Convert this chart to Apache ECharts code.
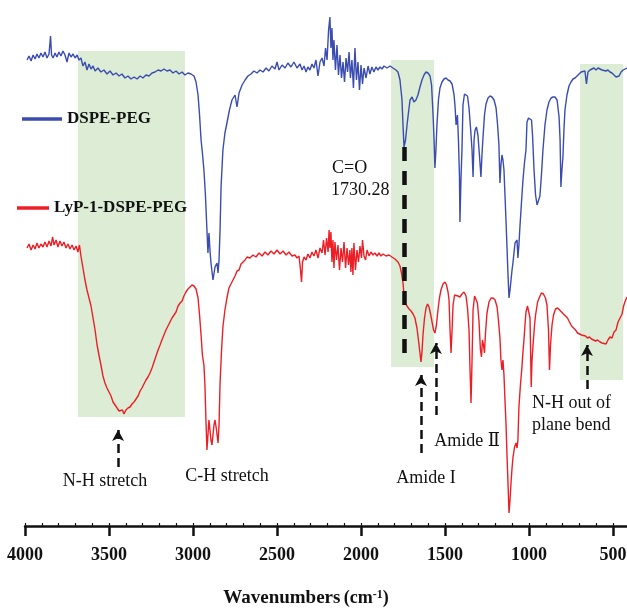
<!DOCTYPE html>
<html><head><meta charset="utf-8">
<script src="https://cdn.jsdelivr.net/npm/echarts@6/dist/echarts.min.js"></script>
<style>html,body{margin:0;padding:0;background:#fff}#c{width:627px;height:609px}</style>
</head><body><div id="c"></div>
<script>
// ---- data ----
const xTicks = [4000, 3500, 3000, 2500, 2000, 1500, 1000, 500];
const seriesNames = ['DSPE-PEG', 'LyP-1-DSPE-PEG'];
// [wavenumber (cm-1), transmittance (arbitrary units)]
const dspePeg = [[3988,466],[3976,470],[3964,465],[3952,471],[3940,467],[3929,472],[3917,468],[3905,473],[3893,469],[3881,474],[3869,468],[3857,472],[3848,490],[3842,471],[3833,468],[3821,473],[3810,469],[3798,474],[3786,470],[3774,475],[3762,471],[3750,464],[3738,473],[3726,469],[3714,472],[3702,468],[3690,471],[3679,466],[3667,468],[3655,460],[3643,464],[3631,456],[3619,462],[3607,457],[3595,460],[3583,455],[3566,458],[3548,454],[3530,456],[3512,452],[3494,455],[3476,451],[3458,453],[3440,450],[3423,452],[3405,448],[3387,450],[3369,447],[3351,449],[3333,447],[3315,450],[3298,448],[3280,451],[3262,450],[3244,453],[3226,454],[3208,456],[3190,455],[3173,457],[3155,455],[3137,456],[3119,453],[3101,455],[3083,452],[3065,454],[3048,451],[3030,453],[3012,452],[2994,450],[2982,444],[2970,431],[2961,411],[2952,386],[2944,373],[2935,356],[2926,331],[2917,296],[2911,273],[2905,293],[2899,276],[2893,263],[2881,246],[2869,259],[2857,263],[2851,253],[2845,266],[2839,296],[2833,339],[2822,376],[2810,393],[2798,403],[2783,416],[2768,426],[2750,431],[2738,419],[2726,433],[2708,441],[2690,446],[2673,450],[2655,452],[2637,455],[2619,453],[2601,456],[2583,454],[2565,458],[2548,455],[2530,460],[2512,457],[2500,464],[2488,456],[2470,461],[2452,458],[2435,463],[2417,459],[2399,464],[2381,458],[2363,462],[2351,456],[2339,460],[2327,454],[2316,459],[2304,456],[2292,462],[2280,458],[2268,466],[2256,450],[2244,464],[2232,468],[2220,460],[2211,478],[2202,466],[2193,496],[2185,509],[2179,478],[2173,498],[2167,466],[2161,486],[2152,456],[2143,481],[2134,451],[2125,471],[2116,448],[2107,464],[2098,444],[2089,468],[2080,454],[2071,474],[2063,448],[2054,466],[2045,438],[2036,478],[2027,446],[2018,464],[2009,436],[2000,461],[1991,442],[1982,458],[1970,448],[1958,460],[1947,452],[1935,459],[1923,454],[1911,459],[1899,456],[1887,459],[1875,457],[1863,460],[1845,458],[1827,460],[1810,458],[1792,456],[1780,454],[1768,446],[1756,426],[1750,401],[1744,379],[1735,386],[1726,401],[1717,414],[1708,426],[1696,429],[1685,424],[1673,426],[1661,431],[1649,439],[1637,446],[1625,451],[1613,454],[1601,453],[1589,450],[1580,441],[1571,411],[1565,386],[1560,358],[1554,376],[1548,401],[1539,426],[1530,438],[1518,444],[1506,447],[1494,448],[1482,446],[1470,445],[1458,442],[1446,431],[1440,419],[1434,401],[1429,399],[1426,411],[1420,386],[1414,351],[1411,304],[1405,346],[1399,376],[1393,421],[1384,432],[1375,434],[1366,430],[1357,418],[1348,398],[1339,376],[1333,349],[1327,386],[1321,396],[1313,399],[1304,391],[1295,371],[1286,349],[1280,371],[1274,388],[1265,411],[1256,422],[1244,428],[1232,430],[1220,429],[1208,426],[1196,418],[1187,401],[1179,381],[1173,343],[1167,361],[1161,371],[1155,366],[1149,356],[1143,331],[1137,306],[1131,279],[1125,251],[1119,228],[1113,236],[1107,246],[1101,256],[1095,264],[1089,274],[1083,283],[1077,285],[1071,286],[1066,268],[1060,281],[1054,299],[1045,323],[1036,346],[1027,363],[1018,376],[1012,404],[1003,408],[994,409],[985,406],[979,391],[970,356],[961,331],[952,321],[943,323],[935,330],[926,351],[917,376],[905,401],[893,416],[881,424],[869,428],[857,429],[845,429],[833,426],[821,409],[815,386],[810,339],[804,356],[798,369],[792,396],[786,416],[774,431],[762,440],[750,444],[738,447],[726,448],[714,450],[702,452],[690,454],[679,453],[667,455],[658,442],[649,454],[637,456],[625,457],[613,458],[601,456],[589,458],[577,457],[565,456],[554,457],[542,455],[530,456],[518,454],[506,453],[494,451],[482,449],[473,448],[464,450],[452,454],[440,456],[429,457],[417,458]];
const lyp1DspePeg = [[3988,278],[3976,282],[3964,276],[3952,281],[3940,277],[3929,283],[3917,278],[3905,282],[3893,279],[3881,284],[3869,279],[3857,285],[3845,280],[3836,289],[3827,281],[3815,286],[3804,279],[3792,285],[3780,280],[3768,284],[3756,278],[3744,282],[3732,277],[3720,281],[3708,276],[3696,280],[3685,274],[3676,281],[3667,270],[3655,258],[3643,246],[3631,236],[3619,228],[3607,220],[3595,208],[3583,196],[3571,181],[3560,171],[3548,161],[3536,150],[3524,143],[3512,138],[3500,134],[3488,130],[3476,124],[3464,121],[3452,118],[3440,115],[3429,113],[3420,116],[3411,112],[3399,116],[3387,118],[3375,119],[3363,122],[3351,124],[3339,127],[3327,130],[3315,135],[3304,138],[3292,142],[3280,146],[3268,149],[3256,153],[3244,158],[3232,164],[3220,170],[3208,176],[3196,181],[3185,186],[3173,191],[3161,196],[3149,200],[3137,204],[3125,208],[3113,211],[3101,214],[3089,220],[3077,223],[3065,225],[3054,230],[3042,234],[3030,237],[3018,239],[3006,241],[2994,240],[2982,237],[2970,228],[2961,211],[2952,191],[2944,171],[2935,161],[2929,141],[2923,106],[2917,76],[2911,91],[2905,106],[2899,96],[2893,86],[2887,81],[2881,91],[2875,101],[2869,106],[2860,96],[2851,83],[2845,101],[2839,143],[2830,176],[2822,199],[2810,216],[2798,228],[2786,238],[2774,242],[2762,246],[2750,250],[2738,255],[2726,256],[2714,262],[2702,264],[2690,266],[2679,269],[2661,268],[2643,271],[2625,269],[2607,273],[2589,270],[2571,274],[2554,271],[2536,275],[2518,272],[2500,276],[2482,272],[2464,275],[2446,271],[2429,274],[2411,270],[2393,271],[2381,268],[2369,270],[2360,256],[2354,244],[2348,264],[2339,269],[2327,266],[2316,272],[2304,268],[2292,274],[2280,270],[2268,276],[2256,268],[2244,278],[2232,273],[2223,286],[2214,271],[2205,288],[2196,274],[2190,296],[2185,278],[2179,294],[2173,264],[2167,286],[2161,258],[2155,284],[2146,266],[2137,281],[2128,256],[2119,278],[2110,264],[2101,284],[2092,258],[2083,278],[2074,261],[2066,276],[2060,254],[2054,278],[2048,251],[2042,283],[2033,256],[2024,276],[2015,264],[2006,280],[1997,268],[1991,286],[1982,270],[1973,266],[1964,276],[1952,270],[1941,274],[1929,271],[1917,273],[1905,270],[1893,273],[1881,270],[1869,272],[1851,270],[1833,271],[1816,269],[1798,267],[1780,264],[1768,260],[1759,253],[1750,243],[1744,231],[1738,223],[1726,220],[1714,217],[1702,215],[1690,212],[1679,208],[1667,198],[1658,186],[1649,173],[1643,164],[1637,174],[1631,191],[1622,208],[1613,218],[1604,222],[1595,219],[1586,212],[1577,204],[1568,196],[1560,193],[1551,201],[1542,216],[1533,228],[1524,236],[1512,242],[1500,244],[1491,241],[1482,234],[1476,226],[1470,196],[1464,173],[1458,196],[1452,221],[1443,231],[1434,233],[1423,230],[1411,229],[1399,232],[1387,234],[1375,230],[1366,218],[1357,196],[1351,156],[1345,123],[1339,166],[1333,216],[1324,230],[1315,229],[1307,223],[1298,206],[1289,176],[1283,169],[1277,186],[1271,181],[1265,173],[1259,193],[1250,213],[1238,224],[1226,228],[1214,228],[1202,226],[1190,219],[1182,206],[1173,188],[1167,166],[1161,156],[1155,166],[1149,151],[1143,126],[1137,103],[1131,71],[1125,43],[1119,13],[1113,26],[1107,43],[1101,58],[1095,69],[1086,79],[1077,83],[1071,78],[1066,86],[1060,119],[1051,141],[1042,159],[1036,174],[1030,186],[1024,201],[1018,214],[1009,220],[1000,218],[994,208],[991,181],[987,139],[982,166],[976,181],[967,201],[961,211],[949,224],[937,229],[926,233],[914,232],[902,228],[893,221],[884,196],[878,156],[872,181],[863,201],[854,211],[842,217],[830,218],[818,216],[807,214],[795,212],[783,210],[771,208],[759,204],[747,200],[735,198],[723,196],[711,193],[699,192],[687,191],[676,192],[664,190],[652,188],[640,189],[628,187],[616,186],[604,185],[592,186],[577,184],[565,183],[554,185],[542,182],[530,186],[518,189],[506,188],[494,194],[482,196],[470,204],[458,208],[446,212],[437,220],[429,224],[417,229]];
// shaded regions: [from wavenumber, to wavenumber, upper value, lower value]
const bandFrom = [3685, 1821, 696];
const bandTo   = [3048, 1565, 440];
const bandTop  = [475, 466, 462];
const bandBot  = [109, 159, 146];
// arrows: wavenumber, tail value, head value
const arrowWn   = [3446, 1643, 1554, 655];
const arrowTail = [59, 73, 111, 137];
const arrowHead = [101, 156, 188, 186];
const carbonylWn = 1744, carbonylTop = 379, carbonylBottom = 166;

// ---- chart ----
const SERIF = "'Times New Roman', 'Liberation Serif', 'DejaVu Serif', serif";
const BLUE = '#3b4cb0', RED = '#ec1f26', GREEN = '#dcecd5', INK = '#111';
const chart = echarts.init(document.getElementById('c'), null, {renderer: 'canvas'});

const markAreaData = bandFrom.map((f, i) => [
  {xAxis: f, yAxis: bandTop[i]},
  {xAxis: bandTo[i], yAxis: bandBot[i]}
]);
const HEAD_HALF = 5;
const markLineData = arrowWn.map((w, i) => [
  {coord: [w, arrowTail[i]], symbol: 'none'},
  {coord: [w, arrowHead[i] - HEAD_HALF], symbol: 'arrow'}
]);
markLineData.push([
  {coord: [carbonylWn, carbonylTop], symbol: 'none', lineStyle: {type: [14, 10], width: 4.5, color: INK}},
  {coord: [carbonylWn, carbonylBottom], symbol: 'none'}
]);

function txt(text, x, y, align, size) {
  return {type: 'text', x: x, y: y, silent: true, z: 100,
    style: {text: text, fontFamily: SERIF, fontSize: size || 18, fill: INK,
            align: align || 'center', verticalAlign: 'middle'}};
}

const legendText = {fontFamily: SERIF, fontWeight: 'bold', fontSize: 17, color: INK, lineHeight: 20};

chart.setOption({
  animation: false,
  backgroundColor: '#fff',
  grid: {left: 25, top: 0, width: 604.8, height: 526, outerBoundsMode: 'none', containLabel: false},
  legend: [
    {data: [seriesNames[0]], left: 22, top: 109, padding: 0, icon: 'rect',
     itemWidth: 40, itemHeight: 3.5, selectedMode: false, textStyle: legendText},
    {data: [seriesNames[1]], left: 17, top: 198, padding: 0, icon: 'rect',
     itemWidth: 32, itemHeight: 3.5, selectedMode: false, textStyle: legendText}
  ],
  xAxis: [
    {type: 'value', min: 400, max: 4000, inverse: true, position: 'bottom',
     axisLine: {onZero: false, lineStyle: {color: INK, width: 2.5}},
     axisTick: {customValues: xTicks, length: 10, lineStyle: {color: INK, width: 2.5}},
     axisLabel: {customValues: xTicks, margin: 20, color: INK, fontFamily: SERIF,
                 fontWeight: 'bold', fontSize: 18, formatter: v => String(v)},
     splitLine: {show: false}},
    {type: 'value', min: 400, max: 4000, interval: 100, inverse: true, position: 'bottom',
     axisLine: {show: false, onZero: false},
     axisTick: {inside: true, length: 3, lineStyle: {color: INK, width: 1.2}},
     axisLabel: {show: false}, splitLine: {show: false}}
  ],
  yAxis: {type: 'value', min: 0, max: 526, show: false, splitLine: {show: false}},
  series: [
    {name: seriesNames[0], type: 'line', data: dspePeg, xAxisIndex: 0,
     showSymbol: false, symbol: 'none', color: BLUE,
     lineStyle: {color: BLUE, width: 1.4},
     markArea: {silent: true, itemStyle: {color: GREEN}, data: markAreaData}},
    {name: seriesNames[1], type: 'line', data: lyp1DspePeg, xAxisIndex: 0,
     showSymbol: false, symbol: 'none', color: RED,
     lineStyle: {color: RED, width: 1.4},
     markLine: {silent: true, symbol: ['none', 'arrow'], symbolSize: [9, 11],
                label: {show: false}, emphasis: {disabled: true},
                lineStyle: {color: INK, type: [9, 5], width: 2.5},
                data: markLineData}}
  ],
  graphic: [
    txt('C=O', 332, 168, 'left'),
    txt('1730.28', 331, 190, 'left'),
    txt('N-H stretch', 105, 481),
    txt('C-H stretch', 227, 476),
    txt('Amide I', 426, 478),
    txt('Amide \u2161', 467, 441),
    txt('N-H out of', 532, 403, 'left'),
    txt('plane bend', 532, 425, 'left'),
    {type: 'text', x: 306, y: 598, silent: true,
     style: {text: '{a|Wavenumbers} {b|(cm}{c|-1}{b|)}', align: 'center', verticalAlign: 'middle',
       fill: INK,
       rich: {
         a: {fontFamily: SERIF, fontWeight: 'bold', fontSize: 19, fill: INK},
         b: {fontFamily: SERIF, fontWeight: 'bold', fontSize: 18, fill: INK},
         c: {fontFamily: SERIF, fontWeight: 'bold', fontSize: 12, fill: INK, verticalAlign: 'top'}
       }}}
  ]
});
</script></body></html>
